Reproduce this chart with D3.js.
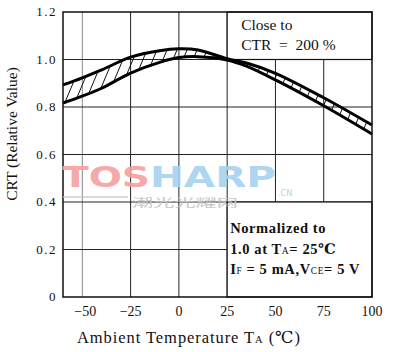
<!DOCTYPE html>
<html>
<head>
<meta charset="utf-8">
<script src="https://cdn.jsdelivr.net/npm/d3@7"></script>
<style>
  body { margin: 0; background: #fff; }
  text { font-family: "Liberation Serif", "DejaVu Serif", serif; fill: #111; }
</style>
</head>
<body>
<svg id="chart"></svg>
<script>
// Data
const temps = [-60, -50, -40, -25, -10, 0, 10, 25, 35, 50, 75, 100];
const upper = [0.893, 0.923, 0.956, 1.010, 1.037, 1.045, 1.040, 1.003, 0.985, 0.942, 0.839, 0.724];
const lower = [0.817, 0.846, 0.879, 0.943, 0.988, 1.008, 1.012, 0.998, 0.972, 0.914, 0.805, 0.686];
const xTicks = [-50, -25, 0, 25, 50, 75, 100];
const xTickLabels = ["\u221250", "\u221225", "0", "25", "50", "75", "100"];
const yTicks = [0, 0.2, 0.4, 0.6, 0.8, 1.0, 1.2];
const yTickLabels = ["0", "0.2", "0.4", "0.6", "0.8", "1.0", "1.2"];

// Set the dimensions and margins of the graph
const margin = {top: 12, right: 25, bottom: 55, left: 63},
    width = 397 - margin.left - margin.right,
    height = 352 - margin.top - margin.bottom;

const root = d3.select("#chart")
  .attr("width", width + margin.left + margin.right)
  .attr("height", height + margin.top + margin.bottom);

const svg = root.append("g")
  .attr("transform", `translate(${margin.left},${margin.top})`);

const x = d3.scaleLinear().domain([-60, 100]).range([0, width]);
const y = d3.scaleLinear().domain([0, 1.2]).range([height, 0]);

// Grid lines
svg.append("g")
  .selectAll("line")
  .data(xTicks.filter(d => d < 100))
  .join("line")
  .attr("x1", d => x(d)).attr("x2", d => x(d))
  .attr("y1", 0).attr("y2", height)
  .attr("stroke", d => d === -50 ? "#888" : "#222")
  .attr("stroke-width", 1);

svg.append("g")
  .selectAll("line")
  .data(yTicks.filter(d => d > 0 && d < 1.2))
  .join("line")
  .attr("x1", 0).attr("x2", width)
  .attr("y1", d => y(d)).attr("y2", d => y(d))
  .attr("stroke", "#222")
  .attr("stroke-width", 1);

// Note boxes (white, cover the grid)
const boxes = [
  {x0: 25, x1: 100, y0: 1.0, y1: 1.2},
  {x0: 25, x1: 100, y0: 0, y1: 0.4}
];
svg.append("g")
  .selectAll("rect")
  .data(boxes)
  .join("rect")
  .attr("x", d => x(d.x0))
  .attr("y", d => y(d.y1))
  .attr("width", d => x(d.x1) - x(d.x0))
  .attr("height", d => y(d.y0) - y(d.y1))
  .attr("fill", "#fff")
  .attr("stroke", "#111")
  .attr("stroke-width", 1.2);

// Band between the two curves, hatched
const pts = temps.map((t, i) => ({t, hi: upper[i], lo: lower[i]}));
const curve = d3.curveCatmullRom.alpha(0.5);

const area = d3.area()
  .x(d => x(d.t))
  .y0(d => y(d.lo))
  .y1(d => y(d.hi))
  .curve(curve);

root.append("defs")
  .append("clipPath")
  .attr("id", "band")
  .append("path")
  .attr("d", area(pts));

const hatch = d3.range(-40, width + 20, 10);
svg.append("g")
  .attr("clip-path", "url(#band)")
  .selectAll("line")
  .data(hatch)
  .join("line")
  .attr("x1", d => d).attr("y1", y(0.7))
  .attr("x2", d => d + 40).attr("y2", y(1.1))
  .attr("stroke", "#111")
  .attr("stroke-width", 1);

const lineHi = d3.line().x(d => x(d.t)).y(d => y(d.hi)).curve(curve);
const lineLo = d3.line().x(d => x(d.t)).y(d => y(d.lo)).curve(curve);

svg.append("path")
  .attr("d", lineHi(pts))
  .attr("fill", "none")
  .attr("stroke", "#000")
  .attr("stroke-width", 3);

svg.append("path")
  .attr("d", lineLo(pts))
  .attr("fill", "none")
  .attr("stroke", "#000")
  .attr("stroke-width", 3);

// Frame
svg.append("rect")
  .attr("x", 0).attr("y", 0)
  .attr("width", width).attr("height", height)
  .attr("fill", "none")
  .attr("stroke", "#111")
  .attr("stroke-width", 1.5);

// X axis labels
svg.append("g")
  .selectAll("text")
  .data(xTicks)
  .join("text")
  .attr("x", (d, i) => x(d) + (i === 0 ? 3 : 0))
  .attr("y", height + 19)
  .attr("text-anchor", "middle")
  .style("font-size", "14px")
  .text((d, i) => xTickLabels[i]);

// Y axis labels
svg.append("g")
  .selectAll("text")
  .data(yTicks)
  .join("text")
  .attr("x", -6)
  .attr("y", d => y(d) + 4)
  .attr("text-anchor", "end")
  .style("font-size", "13px")
  .style("letter-spacing", "1.5px")
  .text((d, i) => yTickLabels[i]);

// Axis titles
const xt = svg.append("text")
  .attr("x", 77 - margin.left)
  .attr("y", height + 46)
  .attr("textLength", 223)
  .attr("lengthAdjust", "spacing")
  .style("font-size", "16.5px");
xt.append("tspan").text("Ambient Temperature  T");
xt.append("tspan").attr("font-size", "10.5px").text("A");
xt.append("tspan").text("  (\u2103)");

svg.append("text")
  .attr("transform", `translate(${17 - margin.left},${134 - margin.top}) rotate(-90)`)
  .attr("text-anchor", "middle")
  .style("font-size", "15.5px")
  .text("CRT (Relative Value)");

// Notes
svg.append("text")
  .attr("x", x(25) + 14).attr("y", 18)
  .style("font-size", "15.5px")
  .text("Close to");
svg.append("text")
  .attr("x", x(25) + 14).attr("y", 38)
  .style("font-size", "15.5px")
  .attr("xml:space", "preserve")
  .text("CTR  =  200 %");

const note = svg.append("g")
  .style("font-size", "14.5px")
  .style("font-weight", "bold")
  .style("letter-spacing", "0.6px");
note.append("text")
  .attr("x", x(25) + 3).attr("y", 221)
  .text("Normalized to");
const n2 = note.append("text").attr("x", x(25) + 3).attr("y", 242);
n2.append("tspan").text("1.0  at  T");
n2.append("tspan").attr("font-size", "9.5px").attr("font-weight", "normal").text("A");
n2.append("tspan").text("= 25\u2103");
const n3 = note.append("text").attr("x", x(25) + 3).attr("y", 262);
n3.append("tspan").text("I");
n3.append("tspan").attr("font-size", "9.5px").attr("font-weight", "normal").text("F");
n3.append("tspan").text(" = 5 mA,V");
n3.append("tspan").attr("font-size", "9.5px").attr("font-weight", "normal").text("CE");
n3.append("tspan").text("= 5 V");

// Watermark
const wm = root.append("g").style("opacity", 0.9);
wm.append("text")
  .attr("x", 62).attr("y", 187)
  .attr("textLength", 88).attr("lengthAdjust", "spacingAndGlyphs")
  .style("font-family", "'DejaVu Sans', sans-serif")
  .style("font-weight", "bold").style("font-size", "28px")
  .style("fill", "#f4a0a0")
  .text("TOS");
wm.append("text")
  .attr("x", 150).attr("y", 187)
  .attr("textLength", 126).attr("lengthAdjust", "spacingAndGlyphs")
  .style("font-family", "'DejaVu Sans', sans-serif")
  .style("font-weight", "bold").style("font-size", "28px")
  .style("fill", "#a6d2ef")
  .text("HARP");
wm.append("text")
  .attr("x", 278).attr("y", 196)
  .style("font-family", "'DejaVu Sans', sans-serif")
  .style("font-size", "8px")
  .style("fill", "#a6d2ef")
  .text(".CN");
wm.append("text")
  .attr("x", 132).attr("y", 207)
  .attr("textLength", 106).attr("lengthAdjust", "spacingAndGlyphs")
  .style("font-family", "'Noto Sans CJK SC', sans-serif")
  .style("font-size", "11.5px")
  .style("fill", "#c4c4c4")
  .text("潮光光耀网");
wm.append("line")
  .attr("x1", 63).attr("x2", 128)
  .attr("y1", 197).attr("y2", 197)
  .attr("stroke", "#c8c8c8").attr("stroke-width", 1.5);
</script>
</body>
</html>
